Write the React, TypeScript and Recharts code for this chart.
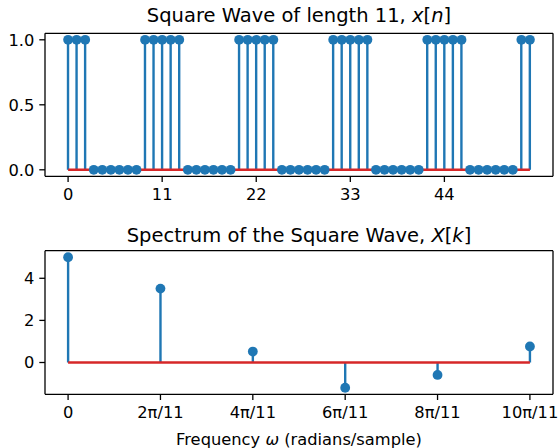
import {
  ComposedChart,
  Bar,
  Scatter,
  XAxis,
  YAxis,
  ReferenceLine,
} from "recharts";

// Square wave samples x[n], n = 0..54 (five periods of 11)
const squareWave = [
  1, 1, 1, 0, 0, 0, 0, 0, 0, 1, 1,
  1, 1, 1, 0, 0, 0, 0, 0, 0, 1, 1,
  1, 1, 1, 0, 0, 0, 0, 0, 0, 1, 1,
  1, 1, 1, 0, 0, 0, 0, 0, 0, 1, 1,
  1, 1, 1, 0, 0, 0, 0, 0, 0, 1, 1,
];
const waveTicks = [0, 11, 22, 33, 44];
const waveYTicks = [0, 0.5, 1];

// Spectrum X[k], k = 0..5
const spectrum = [5, 3.51, 0.52, -1.2, -0.59, 0.76];
const freqLabels = ["0", "2π/11", "4π/11", "6π/11", "8π/11", "10π/11"];
const spectrumYTicks = [0, 2, 4];

const waveRows = squareWave.map((v, i) => ({ n: i, x: v }));
const specRows = spectrum.map((v, i) => ({ k: i, X: v }));

const BLUE = "#1f77b4";
const RED = "#d62728";
const FONT = "DejaVu Sans";
const tickStyle = { fill: "#000", fontSize: 16.3, fontFamily: FONT };
const spine = { stroke: "#000", strokeWidth: 1.3 };

const Dot = (props: any) => (
  <circle cx={props.cx} cy={props.cy} r={4.9} fill={BLUE} />
);

export default function App() {
  const waveX = [-2.7, 56.7];
  const waveY = [-0.05, 1.05];
  const specX = [-0.25, 5.25];
  const specY = [-1.51, 5.31];
  return (
    <div
      style={{
        position: "absolute",
        left: 0,
        top: 0,
        width: 558,
        height: 448,
        background: "#fff",
        fontFamily: FONT,
      }}
    >
      <div style={{ position: "absolute", left: 0, top: 0 }}>
        <ComposedChart
          width={558}
          height={220}
          data={waveRows}
          margin={{ top: 33.3, right: 5, bottom: 20, left: 0 }}
        >
          <text x={299} y={21.5} textAnchor="middle" fontSize={19.5} fontFamily={FONT} fill="#000">
            Square Wave of length 11, <tspan fontStyle="italic">x</tspan>[<tspan fontStyle="italic">n</tspan>]
          </text>
          <XAxis
            dataKey="n"
            type="number"
            domain={waveX}
            ticks={waveTicks}
            height={23.7}
            tick={tickStyle}
            tickSize={5.7}
            tickMargin={6.5}
            axisLine={spine}
            tickLine={spine}
          />
          <YAxis
            type="number"
            domain={waveY}
            ticks={waveYTicks}
            width={45}
            tick={tickStyle}
            tickFormatter={(v: number) => v.toFixed(1)}
            tickSize={5.7}
            tickMargin={5}
            axisLine={spine}
            tickLine={spine}
          />
          <Bar dataKey="x" barSize={2.4} fill={BLUE} isAnimationActive={false} />
          <Scatter dataKey="x" shape={Dot} isAnimationActive={false} />
          <ReferenceLine
            segment={[
              { x: waveRows[0].n, y: 0 },
              { x: waveRows[waveRows.length - 1].n, y: 0 },
            ]}
            stroke={RED}
            strokeWidth={2.4}
          />
          {/* top and right spines */}
          <ReferenceLine y={waveY[1]} stroke="#000" strokeWidth={1.3} />
          <ReferenceLine x={waveX[1]} stroke="#000" strokeWidth={1.3} />
        </ComposedChart>
      </div>
      <div style={{ position: "absolute", left: 0, top: 220 }}>
        <ComposedChart
          width={558}
          height={228}
          data={specRows}
          margin={{ top: 30.7, right: 5, bottom: 29.7, left: 0 }}
        >
          <text x={299} y={21.5} textAnchor="middle" fontSize={19.5} fontFamily={FONT} fill="#000">
            Spectrum of the Square Wave, <tspan fontStyle="italic">X</tspan>[<tspan fontStyle="italic">k</tspan>]
          </text>
          <text x={299} y={224.5} textAnchor="middle" fontSize={16.3} fontFamily={FONT} fill="#000">
            Frequency <tspan fontStyle="italic">ω</tspan> (radians/sample)
          </text>
          <XAxis
            dataKey="k"
            type="number"
            domain={specX}
            ticks={[0, 1, 2, 3, 4, 5]}
            tickFormatter={(v: number) => freqLabels[v]}
            height={24}
            tick={tickStyle}
            tickSize={5.7}
            tickMargin={6.5}
            axisLine={spine}
            tickLine={spine}
            interval={0}
          />
          <YAxis
            type="number"
            domain={specY}
            ticks={spectrumYTicks}
            width={45}
            tick={tickStyle}
            tickSize={5.7}
            tickMargin={5}
            axisLine={spine}
            tickLine={spine}
          />
          <Bar dataKey="X" barSize={2.4} fill={BLUE} isAnimationActive={false} />
          <Scatter dataKey="X" shape={Dot} isAnimationActive={false} />
          <ReferenceLine
            segment={[
              { x: specRows[0].k, y: 0 },
              { x: specRows[specRows.length - 1].k, y: 0 },
            ]}
            stroke={RED}
            strokeWidth={2.4}
          />
          {/* top and right spines */}
          <ReferenceLine y={specY[1]} stroke="#000" strokeWidth={1.3} />
          <ReferenceLine x={specX[1]} stroke="#000" strokeWidth={1.3} />
        </ComposedChart>
      </div>
    </div>
  );
}
